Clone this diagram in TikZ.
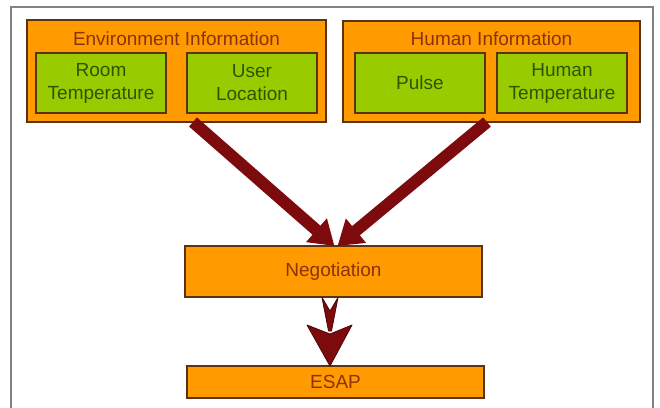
\documentclass[tikz,border=0pt]{standalone}
\usepackage{fontspec}
\setmainfont{Liberation Sans}
\usetikzlibrary{calc,arrows.meta}
\definecolor{orng}{RGB}{255,155,0}
\definecolor{grn}{RGB}{153,204,0}
\definecolor{edge}{RGB}{90,50,20}
\definecolor{otext}{RGB}{140,50,10}
\definecolor{gtext}{RGB}{45,85,0}
\definecolor{arr}{RGB}{125,10,12}
\definecolor{arrdk}{RGB}{80,5,5}
\definecolor{frame}{RGB}{130,130,130}
\tikzset{
  obox/.style={draw=edge, fill=orng, line width=1.2pt, inner sep=0pt, outer sep=0pt, rectangle},
  gbox/.style={draw=edge, fill=grn, line width=1.2pt, inner sep=0pt, outer sep=0pt, rectangle,
     minimum width=130pt, minimum height=60pt, text=gtext, align=center, font=\fontsize{19}{23}\selectfont},
  otitle/.style={text=otext, font=\fontsize{19}{23}\selectfont, inner sep=0pt},
  bigarrow/.style={draw=arr, line width=12pt, -{Triangle[width=30pt,length=24pt]}, arr},
}
\begin{document}
\begin{tikzpicture}[x=1pt,y=-1pt]
\useasboundingbox (0,0) rectangle (660,407);
\fill[white] (0,0) rectangle (660,407);
\draw[frame, line width=1.5pt] (11,410) -- (11,7) -- (653,7) -- (653,410);

\node[obox, minimum width=299pt, minimum height=102pt] (env) at (176.5,71) {};
\node[otitle] (envt) at (176.5,39) {Environment Information};
\node[gbox] (rt) at (101,83) {Room\\Temperature};
\node[gbox] (ul) at (252,83) {User\\Location};

\node[obox, minimum width=297pt, minimum height=101pt] (hum) at (491.5,71.5) {};
\node[otitle] (humt) at (491.5,39) {Human Information};
\node[gbox] (pu) at (420,83) {Pulse};
\node[gbox] (ht) at (562,83) {Human\\Temperature};

\node[obox, minimum width=297pt, minimum height=51pt, text=otext, font=\fontsize{19}{23}\selectfont] (neg) at (333.5,271.5) {Negotiation};
\node[obox, minimum width=297pt, minimum height=32pt, text=otext, font=\fontsize{19}{23}\selectfont] (esap) at (335.5,382) {ESAP};

\coordinate (ls) at ($(ul.south west)+(6,9)$);
\coordinate (rs) at ($(pu.south east)+(2,9)$);
\coordinate (lt) at ($(neg.north)+(1,0)$);
\coordinate (rt2) at ($(neg.north)+(4,0)$);
\draw[bigarrow] (ls) -- (lt);
\draw[bigarrow] (rs) -- (rt2);

\coordinate (a) at ($(neg.south)+(-3.5,0)$);
\fill[arr, draw=arrdk, line width=0.8pt, line join=round]
  ($(a)+(-8,0.5)$) -- ($(a)+(0,14)$) -- ($(a)+(8,0.5)$) -- ($(a)+(1.5,34)$) -- ($(a)+(-1.5,34)$) -- cycle;
\fill[arr, draw=arrdk, line width=0.8pt, line join=round]
  ($(a)+(-23,28)$) -- ($(a)+(0,37)$) -- ($(a)+(22,28)$) -- (esap.north -| a) -- cycle;
\end{tikzpicture}
\end{document}
